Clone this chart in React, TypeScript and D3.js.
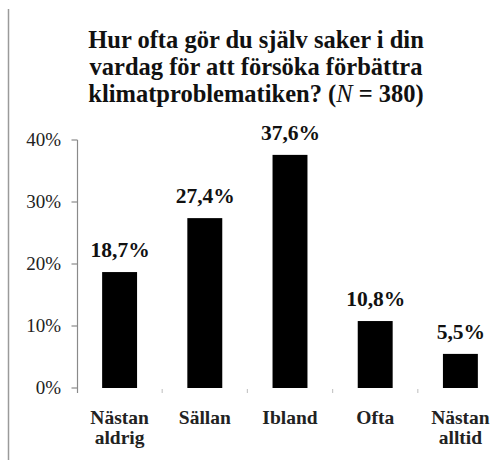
import React from "react";
import * as d3 from "d3";

const categories: string[][] = [["Nästan", "aldrig"], ["Sällan"], ["Ibland"], ["Ofta"], ["Nästan", "alltid"]];
const values: number[] = [0.187, 0.274, 0.376, 0.108, 0.055];
const valueLabels: string[] = ["18,7%", "27,4%", "37,6%", "10,8%", "5,5%"];
const yTicks: number[] = [0, 0.1, 0.2, 0.3, 0.4];
const yTickLabels: string[] = ["0%", "10%", "20%", "30%", "40%"];
const titleLines: string[] = ["Hur ofta gör du själv saker i din", "vardag för att försöka förbättra"];

const W = 500;
const H = 460;
const FONT = '"Liberation Serif", "Times New Roman", serif';

export default function App() {
  const keys = categories.map((c) => c.join(" "));
  const x = d3.scaleBand<string>().domain(keys).range([77, 503]).paddingInner(0.59).paddingOuter(0.295);
  const y = d3.scaleLinear().domain([0, 0.4]).range([388, 140]);
  const step = x.step();
  const boundaries = d3.range(1, keys.length).map((i) => 77 + i * step);

  return (
    <svg width={W} height={H} style={{ position: "absolute", left: 0, top: 0, background: "#fff" }}>
      <rect width={W} height={H} fill="#fff" />
      <line x1={8.5} x2={8.5} y1={9} y2={H} stroke="#9a9a9a" strokeWidth={1.5} />

      {titleLines.map((t, i) => (
        <text key={i} x={256} y={48 + i * 27} textAnchor="middle" fill="#111"
          style={{ fontFamily: FONT, fontWeight: "bold", fontSize: 24.5 }}>{t}</text>
      ))}
      <text x={256} y={102} textAnchor="middle" fill="#111"
        style={{ fontFamily: FONT, fontWeight: "bold", fontSize: 24.5 }}>
        klimatproblematiken? (<tspan style={{ fontStyle: "italic", fontWeight: "normal" }}>N</tspan> = 380)
      </text>

      {/* y axis */}
      <line x1={77.5} x2={77.5} y1={y(0.4)} y2={y(0) + 5} stroke="#8a8a8a" strokeWidth={1.2} />
      {yTicks.map((t, i) => (
        <g key={i}>
          <line x1={71.5} x2={77.5} y1={y(t)} y2={y(t)} stroke="#8a8a8a" strokeWidth={1.2} />
          <text x={61} y={y(t) + 6} textAnchor="end" fill="#222"
            style={{ fontFamily: FONT, fontSize: 19 }}>
            {yTickLabels[i]}
          </text>
        </g>
      ))}

      {/* x axis ticks */}
      {boundaries.map((b, i) => (
        <line key={i} x1={b} x2={b} y1={y(0) + 1} y2={y(0) + 5} stroke="#c8c8c8" strokeWidth={1.2} />
      ))}

      {/* bars */}
      {keys.map((k, i) => (
        <rect key={k} x={x(k)} y={y(values[i])} width={x.bandwidth()} height={y(0) - y(values[i])} fill="#000" />
      ))}

      {/* value labels */}
      {keys.map((k, i) => (
        <text key={k} x={(x(k) as number) + x.bandwidth() / 2 + 0.5} y={y(values[i]) - 15} textAnchor="middle" fill="#111"
          style={{ fontFamily: FONT, fontWeight: "bold", fontSize: 21.5 }}>
          {valueLabels[i]}
        </text>
      ))}

      {/* category labels */}
      {categories.map((c, i) => (
        <text key={i} textAnchor="middle" fill="#222"
          style={{ fontFamily: FONT, fontWeight: "bold", fontSize: 19.5 }}>
          {c.map((line, j) => (
            <tspan key={j} x={(x(keys[i]) as number) + x.bandwidth() / 2} y={424 + j * 20}>{line}</tspan>
          ))}
        </text>
      ))}
    </svg>
  );
}
